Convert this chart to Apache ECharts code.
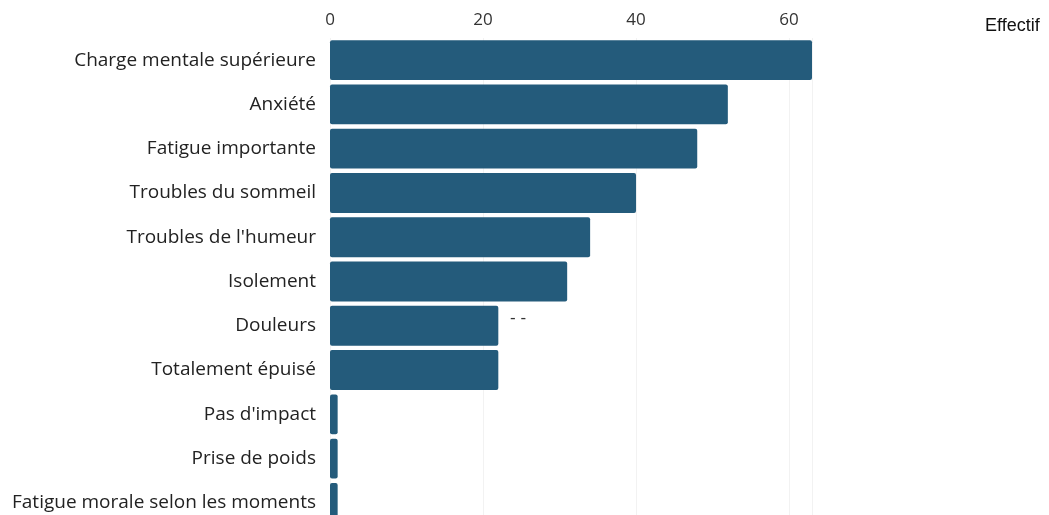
<!DOCTYPE html>
<html>
<head>
<meta charset="utf-8">
<script src="https://cdn.jsdelivr.net/npm/echarts@6/dist/echarts.min.js"></script>
<style>
  html, body { margin: 0; padding: 0; background: #ffffff; overflow: hidden; width: 1049px; height: 515px; }
  /* the plot runs a little past the bottom edge of the page */
  #chart { width: 1049px; height: 540px; }
</style>
</head>
<body>
<div id="chart"></div>
<script>
// Symptômes déclarés, du plus fréquent au moins fréquent
const categories = [
  "Charge mentale supérieure",
  "Anxiété",
  "Fatigue importante",
  "Troubles du sommeil",
  "Troubles de l'humeur",
  "Isolement",
  "Douleurs",
  "Totalement épuisé",
  "Pas d'impact",
  "Prise de poids",
  "Fatigue morale selon les moments"
];
const effectifs = [63, 52, 48, 40, 34, 31, 22, 22, 1, 1, 1];
const xTicks = [0, 20, 40, 60];

const chart = echarts.init(document.getElementById('chart'), null, { renderer: 'canvas' });

chart.setOption({
  animation: false,
  backgroundColor: '#ffffff',
  grid: { left: 330, right: 237, top: 38, height: 487, containLabel: false },
  xAxis: {
    type: 'value',
    position: 'top',
    min: 0,
    max: 63,
    interval: 20,
    axisLine: { show: false },
    axisTick: { show: false },
    axisLabel: {
      margin: 9,
      color: '#333333',
      fontFamily: 'Open Sans',
      fontSize: 17,
      formatter: v => (xTicks.indexOf(v) >= 0 ? String(v) : '')
    },
    splitLine: { show: true, lineStyle: { color: '#f2f2f2', width: 1 } }
  },
  yAxis: {
    type: 'category',
    data: categories,
    inverse: true,
    axisLine: { show: false },
    axisTick: { show: false },
    axisLabel: {
      margin: 14,
      color: '#222222',
      fontFamily: 'Open Sans',
      fontSize: 19
    }
  },
  series: [{
    type: 'bar',
    data: effectifs,
    barCategoryGap: '10%',
    itemStyle: { color: '#245b7b', borderRadius: 2 }
  }],
  graphic: [
    {
      type: 'text',
      left: 985,
      top: 17,
      style: { text: 'Effectif', fill: '#111111', font: '18px "Liberation Sans", Arial, sans-serif' }
    },
    {
      type: 'text',
      left: 510,
      top: 310,
      style: { text: '- -', fill: '#333333', font: '17px "Liberation Sans", Arial, sans-serif' }
    }
  ]
});
</script>
</body>
</html>
